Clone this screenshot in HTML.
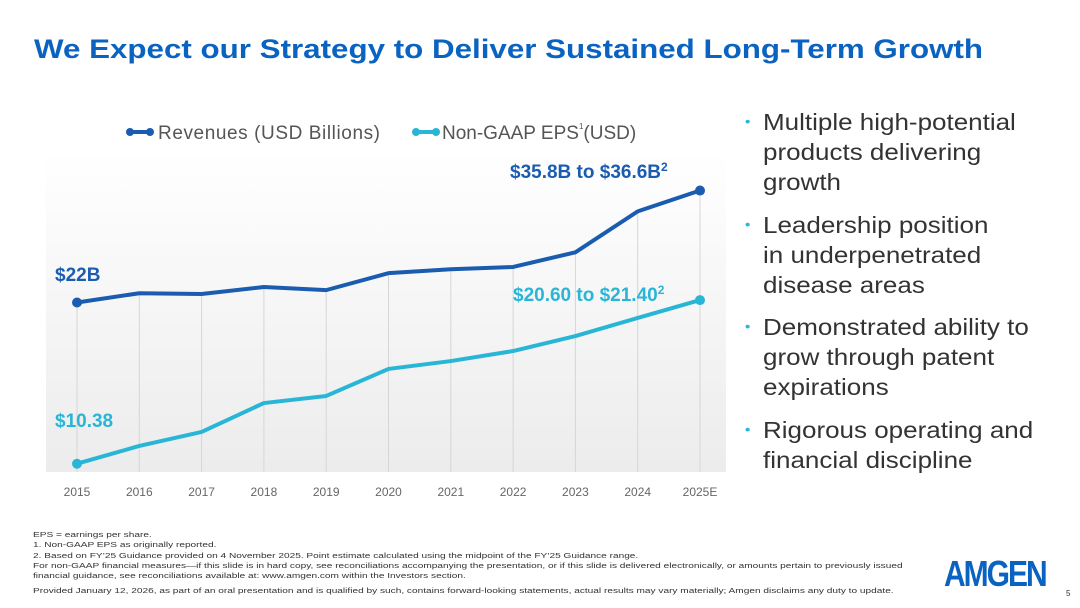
<!DOCTYPE html>
<html><head><meta charset="utf-8"><style>
body{margin:0;width:1080px;height:608px;background:#fff;position:relative;overflow:hidden;font-family:"Liberation Sans",sans-serif}
.t{position:absolute;white-space:nowrap}
#title{left:34px;top:34px;font-size:27px;font-weight:bold;color:#0a63c0;transform:scaleX(1.16);transform-origin:0 0}
.bul{position:absolute;left:763px;font-size:23px;color:#333;line-height:30px;transform:scaleX(1.13);transform-origin:0 0;white-space:nowrap}
.bul span.d{color:#2bb7d8;font-size:14px;position:absolute;left:-16px;top:-1px}
.fn{position:absolute;left:33px;font-size:7.6px;color:#333;line-height:10.3px;transform:scaleX(1.33);transform-origin:0 0;white-space:nowrap}
</style></head><body>
<div id="title" class="t">We Expect our Strategy to Deliver Sustained Long-Term Growth</div>
<svg id="chart" width="1080" height="520" style="position:absolute;left:0;top:0">
<defs><linearGradient id="bg" x1="0" y1="0" x2="0" y2="1"><stop offset="0" stop-color="#fff"/><stop offset="1" stop-color="#ececec"/></linearGradient></defs>
<rect x="46" y="150" width="680" height="322" fill="url(#bg)"/>
<g id="grid"></g><g id="lines"></g><g id="xl"></g>
<g>
<line x1="128" y1="132" x2="150" y2="132" stroke="#1a5cb0" stroke-width="4"/><circle cx="130" cy="132" r="4" fill="#1a5cb0"/><circle cx="150" cy="132" r="4" fill="#1a5cb0"/>
<text x="158" y="139" font-size="19" fill="#555" textLength="222">Revenues (USD Billions)</text>
<line x1="414" y1="132" x2="436" y2="132" stroke="#29b6d6" stroke-width="4"/><circle cx="416" cy="132" r="4" fill="#29b6d6"/><circle cx="436" cy="132" r="4" fill="#29b6d6"/>
<text x="442" y="139" font-size="19" fill="#555">Non-GAAP EPS<tspan font-size="8" dy="-10">1</tspan><tspan dy="10">(USD)</tspan></text>
</g>
<text x="510" y="178" font-size="19" font-weight="bold" fill="#1a5cb0">$35.8B to $36.6B<tspan font-size="12" dy="-7">2</tspan></text>
<text x="55" y="281" font-size="19" font-weight="bold" fill="#1a5cb0">$22B</text>
<text x="513" y="301" font-size="19" font-weight="bold" fill="#29b6d6">$20.60 to $21.40<tspan font-size="12" dy="-7">2</tspan></text>
<text x="55" y="427" font-size="19" font-weight="bold" fill="#29b6d6">$10.38</text>
</svg>
<div class="bul" style="top:107px"><span class="d">•</span>Multiple high-potential<br>products delivering<br>growth</div>
<div class="bul" style="top:210px"><span class="d">•</span>Leadership position<br>in underpenetrated<br>disease areas</div>
<div class="bul" style="top:312px"><span class="d">•</span>Demonstrated ability to<br>grow through patent<br>expirations</div>
<div class="bul" style="top:415px"><span class="d">•</span>Rigorous operating and<br>financial discipline</div>
<div class="fn" style="top:530px">EPS = earnings per share.<br>1. Non-GAAP EPS as originally reported.<br>2. Based on FY’25 Guidance provided on 4 November 2025. Point estimate calculated using the midpoint of the FY’25 Guidance range.<br>For non-GAAP financial measures—if this slide is in hard copy, see reconciliations accompanying the presentation, or if this slide is delivered electronically, or amounts pertain to previously issued<br>financial guidance, see reconciliations available at: www.amgen.com within the Investors section.</div>
<div class="fn" style="top:586px">Provided January 12, 2026, as part of an oral presentation and is qualified by such, contains forward-looking statements, actual results may vary materially; Amgen disclaims any duty to update.</div>
<div class="t" style="left:944px;top:558px;font-size:30px;font-weight:bold;color:#0a63c0;letter-spacing:-2px;transform:scaleY(1.2)">AMGEN</div>
<div class="t" style="left:1066px;top:589px;font-size:8px;color:#333">5</div>
<script>
const years=["2015","2016","2017","2018","2019","2020","2021","2022","2023","2024","2025E"];
const revenues=[21.7,22.9,22.8,23.7,23.3,25.5,26.0,26.3,28.2,33.5,36.2];
const eps=[10.38,11.53,12.44,14.31,14.77,16.52,17.03,17.68,18.65,19.82,20.98];
const ns="http://www.w3.org/2000/svg";
const xs=i=>77+i*62.3;
const yRev=v=>470-v*7.72;
const yEps=v=>624-v*15.44;
function mk(t,a,p){const e=document.createElementNS(ns,t);for(const k in a)e.setAttribute(k,a[k]);document.getElementById(p).appendChild(e);return e;}
years.forEach((y,i)=>{
 const g=mk('line',{x1:xs(i),x2:xs(i),y1:yRev(revenues[i]),y2:472,stroke:'#d6d6d6','stroke-width':1},'grid');
 
 
 const t=mk('text',{x:xs(i),y:496,'font-size':12,fill:'#666','text-anchor':'middle'},'xl');t.textContent=y;
 
 
});
function series(vals,yf,col,name){
 const p=mk('polyline',{points:vals.map((v,i)=>xs(i)+','+yf(v)).join(' '),fill:'none',stroke:col,'stroke-width':4,'stroke-linejoin':'round'},'lines');
 
 
 [0,vals.length-1].forEach(i=>{const c=mk('circle',{cx:xs(i),cy:yf(vals[i]),r:5,fill:col},'lines');
 
 });
}
series(revenues,yRev,'#1a5cb0','revenues');
series(eps,yEps,'#29b6d6','eps');
</script>
</body></html>
